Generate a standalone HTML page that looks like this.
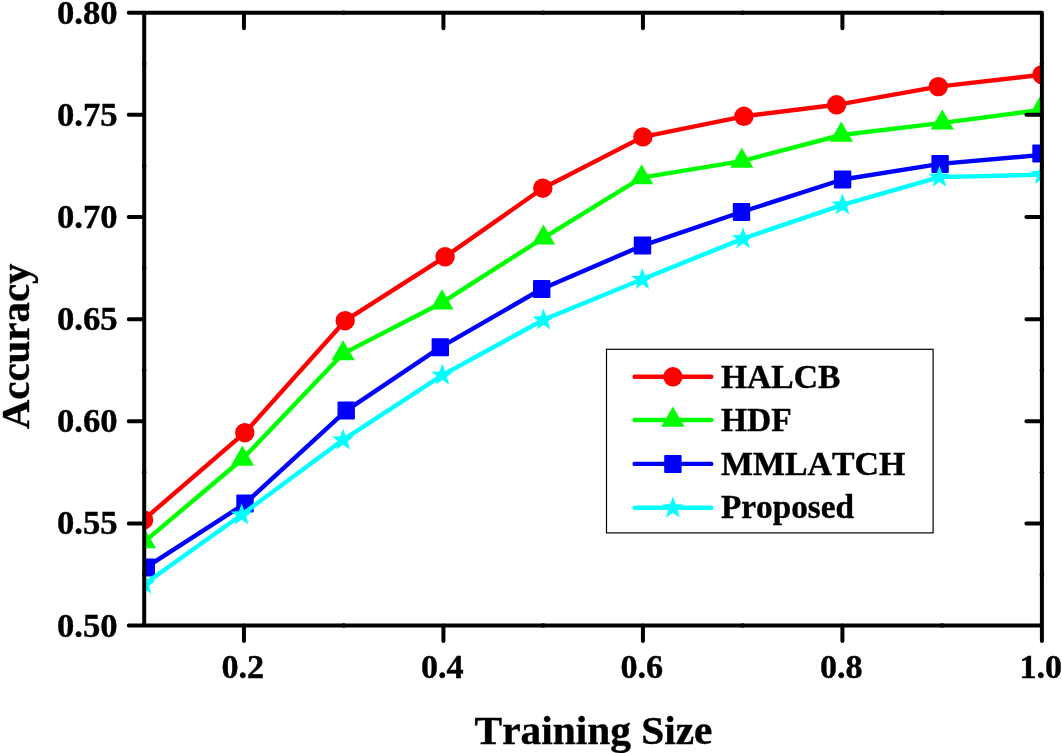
<!DOCTYPE html>
<html><head><meta charset="utf-8"><title>Accuracy vs Training Size</title>
<style>
html,body{margin:0;padding:0;background:#fff;}
body{width:1062px;height:753px;overflow:hidden;}
svg{display:block;}
text{font-family:"Liberation Serif",serif;font-weight:bold;font-kerning:none;fill:#000;stroke:#000;stroke-width:0.4px;}
.tk{font-size:34px;}
.ttl{font-size:41px;}
.lg{font-size:34px;}
</style></head><body>
<svg width="1062" height="753" viewBox="0 0 1062 753">
<rect width="1062" height="753" fill="#fff"/>
<defs><clipPath id="cp"><rect x="144.2" y="12.7" width="897.7" height="612.9"/></clipPath></defs>
<g clip-path="url(#cp)">
<polyline points="144.5,519.0 244.8,432.7 345.2,320.7 445.1,256.8 542.8,188.2 642.9,136.9 743.9,116.3 836.6,104.8 938.3,86.6 1042.0,74.8" fill="none" stroke="#ff0000" stroke-width="4.4" stroke-linejoin="round"/>
<circle cx="143.6" cy="519.9" r="9.7" fill="#ff0000"/>
<circle cx="244.8" cy="432.7" r="9.7" fill="#ff0000"/>
<circle cx="345.2" cy="320.7" r="9.7" fill="#ff0000"/>
<circle cx="445.1" cy="256.8" r="9.7" fill="#ff0000"/>
<circle cx="542.8" cy="188.2" r="9.7" fill="#ff0000"/>
<circle cx="642.9" cy="136.9" r="9.7" fill="#ff0000"/>
<circle cx="743.9" cy="116.3" r="9.7" fill="#ff0000"/>
<circle cx="836.6" cy="104.8" r="9.7" fill="#ff0000"/>
<circle cx="938.3" cy="86.6" r="9.7" fill="#ff0000"/>
<circle cx="1042.0" cy="74.6" r="9.7" fill="#ff0000"/>
<polyline points="144.5,541.6 242.5,459.0 343.1,353.6 442.0,302.7 543.5,237.8 641.6,177.6 741.8,161.1 841.3,135.0 942.3,122.9 1042.0,109.8" fill="none" stroke="#00ff00" stroke-width="4.4" stroke-linejoin="round"/>
<polygon points="144.5,528.2 132.9,548.3 156.1,548.3" fill="#00ff00"/>
<polygon points="242.5,445.6 230.9,465.7 254.1,465.7" fill="#00ff00"/>
<polygon points="343.1,340.2 331.5,360.3 354.7,360.3" fill="#00ff00"/>
<polygon points="442.0,289.3 430.4,309.4 453.6,309.4" fill="#00ff00"/>
<polygon points="543.5,224.4 531.9,244.5 555.1,244.5" fill="#00ff00"/>
<polygon points="641.6,164.2 630.0,184.3 653.2,184.3" fill="#00ff00"/>
<polygon points="741.8,147.7 730.2,167.8 753.4,167.8" fill="#00ff00"/>
<polygon points="841.3,121.6 829.7,141.7 852.9,141.7" fill="#00ff00"/>
<polygon points="942.3,109.5 930.7,129.6 953.9,129.6" fill="#00ff00"/>
<polygon points="1041.6,93.6 1030.0,113.7 1053.2,113.7" fill="#00ff00"/>
<polyline points="144.5,568.3 245.0,503.6 346.2,410.6 440.3,347.3 541.7,289.0 642.5,245.6 741.5,212.0 842.6,179.5 940.1,163.9 1042.0,154.9" fill="none" stroke="#0000ff" stroke-width="4.4" stroke-linejoin="round"/>
<rect x="137.6" y="558.6" width="17.4" height="18.0" rx="1" fill="#0000ff"/>
<rect x="236.3" y="494.6" width="17.4" height="18.0" rx="1" fill="#0000ff"/>
<rect x="337.5" y="401.6" width="17.4" height="18.0" rx="1" fill="#0000ff"/>
<rect x="431.6" y="338.3" width="17.4" height="18.0" rx="1" fill="#0000ff"/>
<rect x="533.0" y="280.0" width="17.4" height="18.0" rx="1" fill="#0000ff"/>
<rect x="633.8" y="236.6" width="17.4" height="18.0" rx="1" fill="#0000ff"/>
<rect x="732.8" y="203.0" width="17.4" height="18.0" rx="1" fill="#0000ff"/>
<rect x="833.9" y="170.5" width="17.4" height="18.0" rx="1" fill="#0000ff"/>
<rect x="931.4" y="154.9" width="17.4" height="18.0" rx="1" fill="#0000ff"/>
<rect x="1032.3" y="144.4" width="17.4" height="18.0" rx="1" fill="#0000ff"/>
<polyline points="144.5,584.0 241.7,514.7 343.1,439.8 442.4,375.1 543.5,319.8 642.3,279.3 743.0,238.6 842.5,204.8 939.4,177.1 1042.0,174.6" fill="none" stroke="#00ffff" stroke-width="4.4" stroke-linejoin="round"/>
<polygon points="144.5,572.7 147.3,580.5 155.5,580.7 149.0,585.8 151.3,593.7 144.5,589.0 137.7,593.7 140.0,585.8 133.5,580.7 141.7,580.5" fill="#00ffff"/>
<polygon points="241.7,503.4 244.5,511.2 252.7,511.4 246.2,516.5 248.5,524.4 241.7,519.7 234.9,524.4 237.2,516.5 230.7,511.4 238.9,511.2" fill="#00ffff"/>
<polygon points="343.1,428.5 345.9,436.3 354.1,436.5 347.6,441.6 349.9,449.5 343.1,444.8 336.3,449.5 338.6,441.6 332.1,436.5 340.3,436.3" fill="#00ffff"/>
<polygon points="442.4,363.8 445.2,371.6 453.4,371.8 446.9,376.9 449.2,384.8 442.4,380.1 435.6,384.8 437.9,376.9 431.4,371.8 439.6,371.6" fill="#00ffff"/>
<polygon points="543.5,308.5 546.3,316.3 554.5,316.5 548.0,321.6 550.3,329.5 543.5,324.8 536.7,329.5 539.0,321.6 532.5,316.5 540.7,316.3" fill="#00ffff"/>
<polygon points="642.3,268.0 645.1,275.8 653.3,276.0 646.8,281.1 649.1,289.0 642.3,284.3 635.5,289.0 637.8,281.1 631.3,276.0 639.5,275.8" fill="#00ffff"/>
<polygon points="743.0,227.3 745.8,235.1 754.0,235.3 747.5,240.4 749.8,248.3 743.0,243.6 736.2,248.3 738.5,240.4 732.0,235.3 740.2,235.1" fill="#00ffff"/>
<polygon points="842.5,193.5 845.3,201.3 853.5,201.5 847.0,206.6 849.3,214.5 842.5,209.8 835.7,214.5 838.0,206.6 831.5,201.5 839.7,201.3" fill="#00ffff"/>
<polygon points="939.4,165.8 942.2,173.6 950.4,173.8 943.9,178.9 946.2,186.8 939.4,182.1 932.6,186.8 934.9,178.9 928.4,173.8 936.6,173.6" fill="#00ffff"/>
<polygon points="1041.6,162.9 1044.4,170.7 1052.6,170.9 1046.1,176.0 1048.4,183.9 1041.6,179.2 1034.8,183.9 1037.1,176.0 1030.6,170.9 1038.8,170.7" fill="#00ffff"/>
</g>
<g stroke="#000" stroke-width="4.0" stroke-linecap="round" fill="none">
<path d="M128.7,12.7 H1041.9 M128.7,625.6 H1041.9 M144.2,12.7 V625.6 M1041.9,12.7 V641.1"/>
<path d="M128.7,114.85 H144.2 M1026.4,114.85 H1041.9"/>
<path d="M128.7,217.00 H144.2 M1026.4,217.00 H1041.9"/>
<path d="M128.7,319.15 H144.2 M1026.4,319.15 H1041.9"/>
<path d="M128.7,421.30 H144.2 M1026.4,421.30 H1041.9"/>
<path d="M128.7,523.45 H144.2 M1026.4,523.45 H1041.9"/>
<path d="M243.94,625.6 V641.1 M243.94,12.7 V28.2"/>
<path d="M443.43,625.6 V641.1 M443.43,12.7 V28.2"/>
<path d="M642.92,625.6 V641.1 M642.92,12.7 V28.2"/>
<path d="M842.41,625.6 V641.1 M842.41,12.7 V28.2"/>
<circle cx="343.69" cy="12.7" r="2.25" fill="#000" stroke="none"/><circle cx="343.69" cy="625.6" r="2.25" fill="#000" stroke="none"/>
<circle cx="543.18" cy="12.7" r="2.25" fill="#000" stroke="none"/><circle cx="543.18" cy="625.6" r="2.25" fill="#000" stroke="none"/>
<circle cx="742.67" cy="12.7" r="2.25" fill="#000" stroke="none"/><circle cx="742.67" cy="625.6" r="2.25" fill="#000" stroke="none"/>
<circle cx="942.16" cy="12.7" r="2.25" fill="#000" stroke="none"/><circle cx="942.16" cy="625.6" r="2.25" fill="#000" stroke="none"/>
<circle cx="144.2" cy="63.77" r="2.25" fill="#000" stroke="none"/><circle cx="1041.9" cy="63.77" r="2.25" fill="#000" stroke="none"/>
<circle cx="144.2" cy="165.92" r="2.25" fill="#000" stroke="none"/><circle cx="1041.9" cy="165.92" r="2.25" fill="#000" stroke="none"/>
<circle cx="144.2" cy="268.07" r="2.25" fill="#000" stroke="none"/><circle cx="1041.9" cy="268.07" r="2.25" fill="#000" stroke="none"/>
<circle cx="144.2" cy="370.22" r="2.25" fill="#000" stroke="none"/><circle cx="1041.9" cy="370.22" r="2.25" fill="#000" stroke="none"/>
<circle cx="144.2" cy="472.37" r="2.25" fill="#000" stroke="none"/><circle cx="1041.9" cy="472.37" r="2.25" fill="#000" stroke="none"/>
<circle cx="144.2" cy="574.52" r="2.25" fill="#000" stroke="none"/><circle cx="1041.9" cy="574.52" r="2.25" fill="#000" stroke="none"/>
</g>
<text class="tk" transform="translate(117.6,23.7) scale(1.02,1)" text-anchor="end">0.80</text>
<text class="tk" transform="translate(117.6,125.8) scale(1.02,1)" text-anchor="end">0.75</text>
<text class="tk" transform="translate(117.6,228.0) scale(1.02,1)" text-anchor="end">0.70</text>
<text class="tk" transform="translate(117.6,330.1) scale(1.02,1)" text-anchor="end">0.65</text>
<text class="tk" transform="translate(117.6,432.3) scale(1.02,1)" text-anchor="end">0.60</text>
<text class="tk" transform="translate(117.6,534.4) scale(1.02,1)" text-anchor="end">0.55</text>
<text class="tk" transform="translate(117.6,636.6) scale(1.02,1)" text-anchor="end">0.50</text>
<text class="tk" transform="translate(242.8,677.8) scale(1.005,1)" text-anchor="middle">0.2</text>
<text class="tk" transform="translate(442.3,677.8) scale(1.005,1)" text-anchor="middle">0.4</text>
<text class="tk" transform="translate(641.8,677.8) scale(1.005,1)" text-anchor="middle">0.6</text>
<text class="tk" transform="translate(841.3,677.8) scale(1.005,1)" text-anchor="middle">0.8</text>
<text class="tk" transform="translate(1040.8,677.8) scale(1.005,1)" text-anchor="middle">1.0</text>
<text class="ttl" transform="translate(593.5,744.2) scale(1.009,1)" text-anchor="middle">Training Size</text>
<text class="ttl" transform="translate(29.3,346.4) rotate(-90) scale(0.998,1)" text-anchor="middle">Accuracy</text>
<rect x="606.5" y="349.3" width="326.6" height="183.6" fill="#fff" stroke="#000" stroke-width="1.2"/>
<line x1="634.6" y1="376.8" x2="711.3" y2="376.8" stroke="#ff0000" stroke-width="4.4" stroke-linecap="round"/>
<circle cx="672.9" cy="376.8" r="9.7" fill="#ff0000"/>
<text class="lg" transform="translate(721.0,387.5) scale(0.988,1)" text-anchor="start">HALCB</text>
<line x1="634.6" y1="420.0" x2="711.3" y2="420.0" stroke="#00ff00" stroke-width="4.4" stroke-linecap="round"/>
<polygon points="672.9,406.6 661.3,426.7 684.5,426.7" fill="#00ff00"/>
<text class="lg" transform="translate(721.0,430.7) scale(0.985,1)" text-anchor="start">HDF</text>
<line x1="634.6" y1="463.9" x2="711.3" y2="463.9" stroke="#0000ff" stroke-width="4.4" stroke-linecap="round"/>
<rect x="664.2" y="454.9" width="17.4" height="18.0" rx="1" fill="#0000ff"/>
<text class="lg" transform="translate(721.0,474.6) scale(0.996,1)" text-anchor="start">MMLATCH</text>
<line x1="634.6" y1="507.7" x2="711.3" y2="507.7" stroke="#00ffff" stroke-width="4.4" stroke-linecap="round"/>
<polygon points="672.9,496.4 675.7,504.2 683.9,504.4 677.4,509.5 679.7,517.4 672.9,512.7 666.1,517.4 668.4,509.5 661.9,504.4 670.1,504.2" fill="#00ffff"/>
<text class="lg" transform="translate(721.0,518.4) scale(0.979,1)" text-anchor="start">Proposed</text>
</svg></body></html>
